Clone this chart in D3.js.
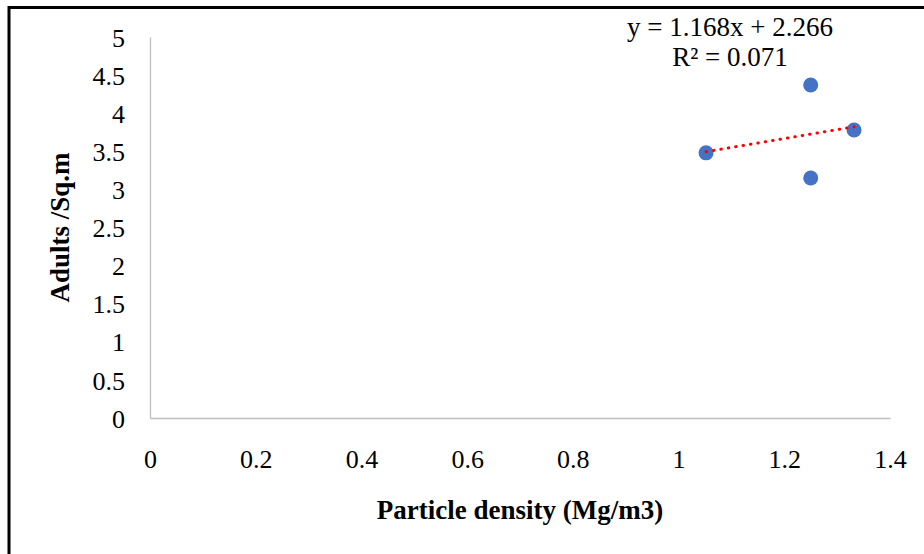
<!DOCTYPE html>
<html>
<head>
<meta charset="utf-8">
<script src="https://cdn.jsdelivr.net/npm/d3@7/dist/d3.min.js"></script>
<style>
  html, body { margin: 0; padding: 0; background: #fff; }
  svg { display: block; }
  text { font-family: "Liberation Serif", "Times New Roman", serif; fill: #000; }
</style>
</head>
<body>
<svg id="chart" width="924" height="554"></svg>
<script>
// Data
const particleDensity = [1.052, 1.25, 1.332, 1.25];
const adultsPerSqM = [3.48, 4.37, 3.78, 3.15];
const xTicks = [0, 0.2, 0.4, 0.6, 0.8, 1, 1.2, 1.4];
const yTicks = [0, 0.5, 1, 1.5, 2, 2.5, 3, 3.5, 4, 4.5, 5];
const trendSlope = 1.168;
const trendIntercept = 2.266;
const equationLines = ["y = 1.168x + 2.266", "R² = 0.071"];
const xTitle = "Particle density (Mg/m3)";
const yTitle = "Adults /Sq.m";

const svg = d3.select("#chart");
const m = { left: 150, right: 890, top: 37, bottom: 418 };

// Outer frame
svg.append("rect")
  .attr("x", 9).attr("y", 7.5)
  .attr("width", 1000).attr("height", 1000)
  .attr("fill", "none").attr("stroke", "#000").attr("stroke-width", 3);

const x = d3.scaleLinear().domain([0, 1.4]).range([m.left, m.right]);
const y = d3.scaleLinear().domain([0, 5]).range([m.bottom, m.top]);

const xAxis = d3.axisBottom(x).tickValues(xTicks).tickSize(0).tickPadding(0)
  .tickFormat(d => d3.format("~g")(d));
const gx = svg.append("g").attr("transform", `translate(0,${m.bottom})`).call(xAxis);
gx.select(".domain").attr("stroke", "#bfbfbf").attr("stroke-width", 1.3);
gx.selectAll(".tick text").attr("dy", null).attr("y", 50)
  .style("font-size", "26px").style("font-family", "Liberation Serif").attr("fill", "#000");

const yAxis = d3.axisLeft(y).tickValues(yTicks).tickSize(0).tickPadding(0)
  .tickFormat(d => d3.format("~g")(d));
const gy = svg.append("g").attr("transform", `translate(${m.left},0)`).call(yAxis);
gy.select(".domain").attr("stroke", "#bfbfbf").attr("stroke-width", 1.3);
gy.selectAll(".tick text").attr("x", -25).attr("dy", "0.35em")
  .style("font-size", "26px").style("font-family", "Liberation Serif").attr("fill", "#000");

// Points
svg.append("g").selectAll("circle")
  .data(particleDensity.map((d, i) => [d, adultsPerSqM[i]]))
  .join("circle")
  .attr("cx", d => x(d[0])).attr("cy", d => y(d[1]))
  .attr("r", 7.5).attr("fill", "#4472C4");

// Trendline (drawn above markers)
const xMin = d3.min(particleDensity), xMax = d3.max(particleDensity);
svg.append("line")
  .attr("x1", x(xMin)).attr("y1", y(trendSlope * xMin + trendIntercept))
  .attr("x2", x(xMax)).attr("y2", y(trendSlope * xMax + trendIntercept))
  .attr("stroke", "#ff0000").attr("stroke-width", 3)
  .attr("stroke-linecap", "round").attr("stroke-dasharray", "0.5 7");

// Equation label
svg.append("text").attr("x", 730).attr("y", 36).attr("text-anchor", "middle")
  .style("font-size", "27px").text(equationLines[0]);
svg.append("text").attr("x", 730).attr("y", 66).attr("text-anchor", "middle")
  .style("font-size", "27px").text(equationLines[1]);

// Axis titles
svg.append("text").attr("x", (m.left + m.right) / 2).attr("y", 519)
  .attr("text-anchor", "middle").style("font-size", "27px").style("font-weight", "bold")
  .text(xTitle);
svg.append("text")
  .attr("transform", `translate(69,${(m.top + m.bottom) / 2}) rotate(-90)`)
  .attr("text-anchor", "middle").style("font-size", "27px").style("font-weight", "bold")
  .text(yTitle);
</script>
</body>
</html>
